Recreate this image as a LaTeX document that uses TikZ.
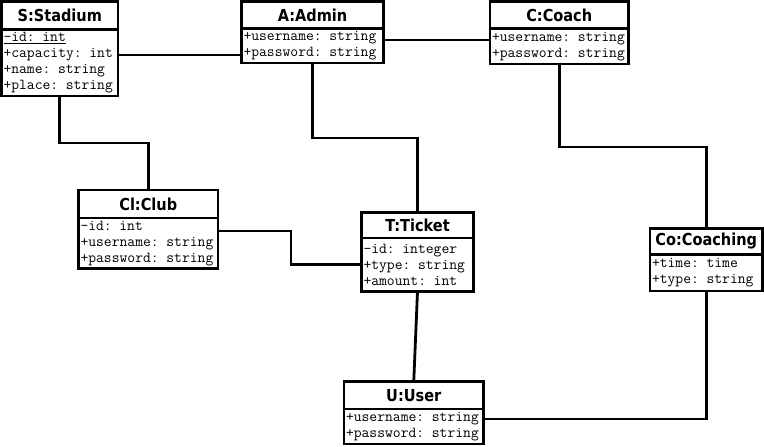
\documentclass[tikz,border=0pt]{standalone}
\usepackage{fontspec}
\newfontfamily\headfont{DejaVu Sans}[FakeStretch=0.88]
\usepackage{tikz}
\usetikzlibrary{positioning, calc}
\tikzset{%
	head/.style={draw, line width=2.8pt, outer sep=0pt, inner sep=0pt, anchor=north west,%
		font=\headfont\bfseries\fontsize{16.5}{18}\selectfont},
	body/.style={draw, line width=2.8pt, outer sep=0pt, inner xsep=2pt, inner ysep=0pt,%
		anchor=north west, align=left, font=\ttfamily\fontsize{15.2}{16}\selectfont},
	connector/.style={line width=2.8pt}
}

\begin{document}
\begin{tikzpicture}[x=1pt, y=-1pt]
  \useasboundingbox (0,0) rectangle (764,447);

  \node[head, minimum width=116.5pt, minimum height=28pt] (stadium) at (1.5,1.5) {S:Stadium};
  \node[body, text width=112.5pt, minimum height=66.5pt] (stadiumAttr) at (stadium.south west)
    {\underline{-id: int}\\+capacity: int\\+name: string\\+place: string};

  \node[head, minimum width=142pt, minimum height=27pt] (admin) at (241.5,1.5) {A:Admin};
  \node[body, text width=138pt, minimum height=34.5pt] (adminAttr) at (admin.south west)
    {+username: string\\+password: string};

  \node[head, minimum width=138.5pt, minimum height=27pt] (coach) at (490,1.5) {C:Coach};
  \node[body, text width=134.5pt, minimum height=35.5pt] (coachAttr) at (coach.south west)
    {+username: string\\+password: string};

  \node[head, minimum width=139.5pt, minimum height=28pt] (club) at (78.5,190) {Cl:Club};
  \node[body, text width=135.5pt, minimum height=50.5pt] (clubAttr) at (club.south west)
    {-id: int\\+username: string\\+password: string};

  \node[head, minimum width=112pt, minimum height=25.5pt] (ticket) at (361.5,212.5) {T:Ticket};
  \node[body, text width=108pt, minimum height=53.5pt] (ticketAttr) at (ticket.south west)
    {-id: integer\\+type: string\\+amount: int};

  \node[head, minimum width=139.5pt, minimum height=27.5pt] (user) at (344,381.5) {U:User};
  \node[body, text width=135.5pt, minimum height=35pt] (userAttr) at (user.south west)
    {+username: string\\+password: string};

  \node[head, minimum width=112.5pt, minimum height=26pt] (coaching) at (650,228.5) {Co:Coaching};
  \node[body, text width=108.5pt, minimum height=36.5pt] (coachingAttr) at (coaching.south west)
    {+time: time\\+type: string};

  % associations
  \draw[connector] (stadiumAttr.east |- 0,55) -- (adminAttr.west |- 0,55);
  \draw[connector] (adminAttr.east |- 0,40) -- (coachAttr.west |- 0,40);
  \draw[connector] (stadiumAttr.south) -- ++(0,47) -| (club.north);
  \draw[connector] (adminAttr.south) -- ++(0,75) -| (ticket.north);
  \draw[connector] (coachAttr.south) -- ++(0,83) -| (coaching.north);
  \draw[connector] (clubAttr.east |- 0,231) -- (291,231) |- (ticketAttr.west);
  \draw[connector] (ticketAttr.south) -- (user.north);
  \draw[connector] (coachingAttr.south) |- (userAttr.east |- 0,419);
\end{tikzpicture}
\end{document}
